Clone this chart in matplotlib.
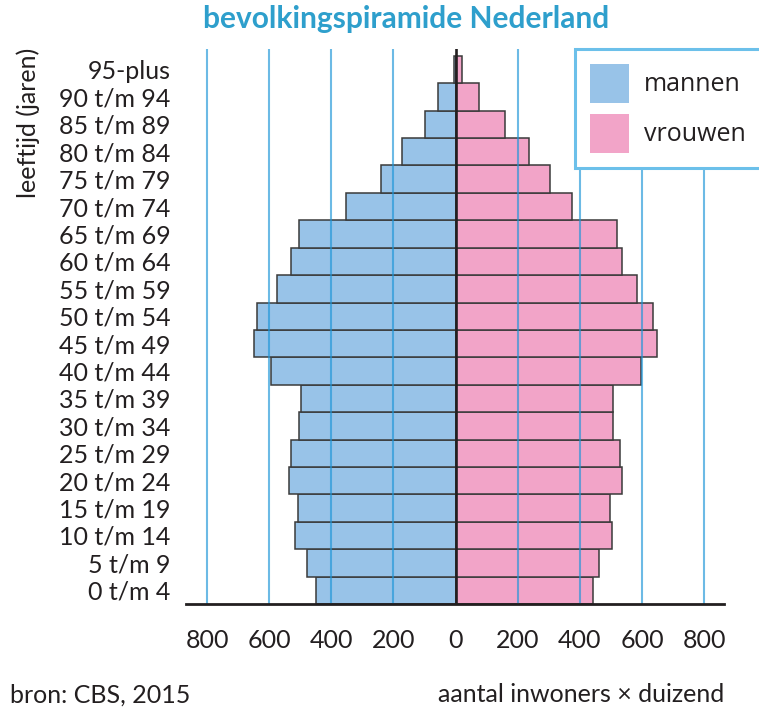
import matplotlib
matplotlib.use("Agg")
import matplotlib.pyplot as plt
import numpy as np
from matplotlib.patches import Patch

plt.rcParams['font.family'] = ['Lato', 'DejaVu Sans']

age_groups = ["0 t/m 4", "5 t/m 9", "10 t/m 14", "15 t/m 19", "20 t/m 24",
              "25 t/m 29", "30 t/m 34", "35 t/m 39", "40 t/m 44", "45 t/m 49",
              "50 t/m 54", "55 t/m 59", "60 t/m 64", "65 t/m 69", "70 t/m 74",
              "75 t/m 79", "80 t/m 84", "85 t/m 89", "90 t/m 94", "95-plus"]
mannen = [450, 477, 516, 509, 538, 529, 503, 497, 593, 649,
          639, 575, 529, 503, 353, 239, 172, 97, 57, 4]
vrouwen = [443, 460, 505, 497, 535, 528, 506, 506, 597, 648,
           637, 585, 535, 520, 375, 304, 236, 160, 76, 21]
x_ticks = [-800, -600, -400, -200, 0, 200, 400, 600, 800]
x_tick_labels = ["800", "600", "400", "200", "0", "200", "400", "600", "800"]

BLUE = "#98c3e8"
PINK = "#f2a4c8"
EDGE = "#3a3a3a"
DARK = "#231f20"
GRID = "#1e96d8"
TITLE = "#2e9fcc"
FS = 18

fig = plt.figure(figsize=(7.59, 7.11), dpi=100)
ax = fig.add_axes([186/759, (711-604)/711, (724-186)/759, (604-49)/711])

y = np.arange(len(age_groups))
ax.barh(y, -np.array(mannen), height=1.0, color=BLUE, edgecolor=EDGE,
        linewidth=1.1, zorder=2)
ax.barh(y, vrouwen, height=1.0, color=PINK, edgecolor=EDGE,
        linewidth=1.1, zorder=2)

for xv in x_ticks:
    if xv != 0:
        ax.axvline(xv, color=GRID, alpha=0.65, linewidth=1.5, zorder=3)
ax.axvline(0, color=DARK, linewidth=1.9, zorder=4)

ax.set_xlim(-868, 864)
ax.set_ylim(-0.5, 19.75)

for s in ["top", "right", "left"]:
    ax.spines[s].set_visible(False)
ax.spines["bottom"].set_linewidth(2.0)
ax.spines["bottom"].set_color(DARK)
ax.spines["bottom"].set_zorder(5)

ax.set_yticks(y)
ax.set_yticklabels(age_groups, fontsize=FS, color=DARK)
ax.set_xticks(x_ticks)
ax.set_xticklabels(x_tick_labels, fontsize=FS, color=DARK)
ax.tick_params(axis="y", length=0, pad=11)
ax.tick_params(axis="x", length=0, pad=18)

fig.text(406/759, 1 - 19/711, "bevolkingspiramide Nederland", ha="center",
         va="center", fontsize=21.5, fontweight="bold", color=TITLE)
fig.text(28/759, 1 - 48/711, "leeftijd (jaren)", rotation=90, ha="center",
         va="top", fontsize=FS, color=DARK)
fig.text(10/759, 1 - 695/711, "bron: CBS, 2015", ha="left", va="center",
         fontsize=FS, color=DARK)
fig.text(724/759, 1 - 695/711, "aantal inwoners \u00d7 duizend", ha="right",
         va="center", fontsize=FS, color=DARK)

handles = [Patch(facecolor=BLUE, edgecolor="none", label="mannen"),
           Patch(facecolor=PINK, edgecolor="none", label="vrouwen")]
leg = ax.legend(handles=handles, loc="upper left",
                bbox_to_anchor=(575/759, 1 - 49/711),
                bbox_transform=fig.transFigure, borderaxespad=0,
                fancybox=False, framealpha=1, edgecolor="#6cc0ea",
                prop={"family": "Open Sans", "size": 18},
                handlelength=1.55, handleheight=2.0, labelspacing=0.45,
                handletextpad=0.6, borderpad=0.6)
leg.get_frame().set_linewidth(2.2)
leg.set_zorder(10)
for t in leg.get_texts():
    t.set_color(DARK)

fig.savefig("out.png", dpi=100)
